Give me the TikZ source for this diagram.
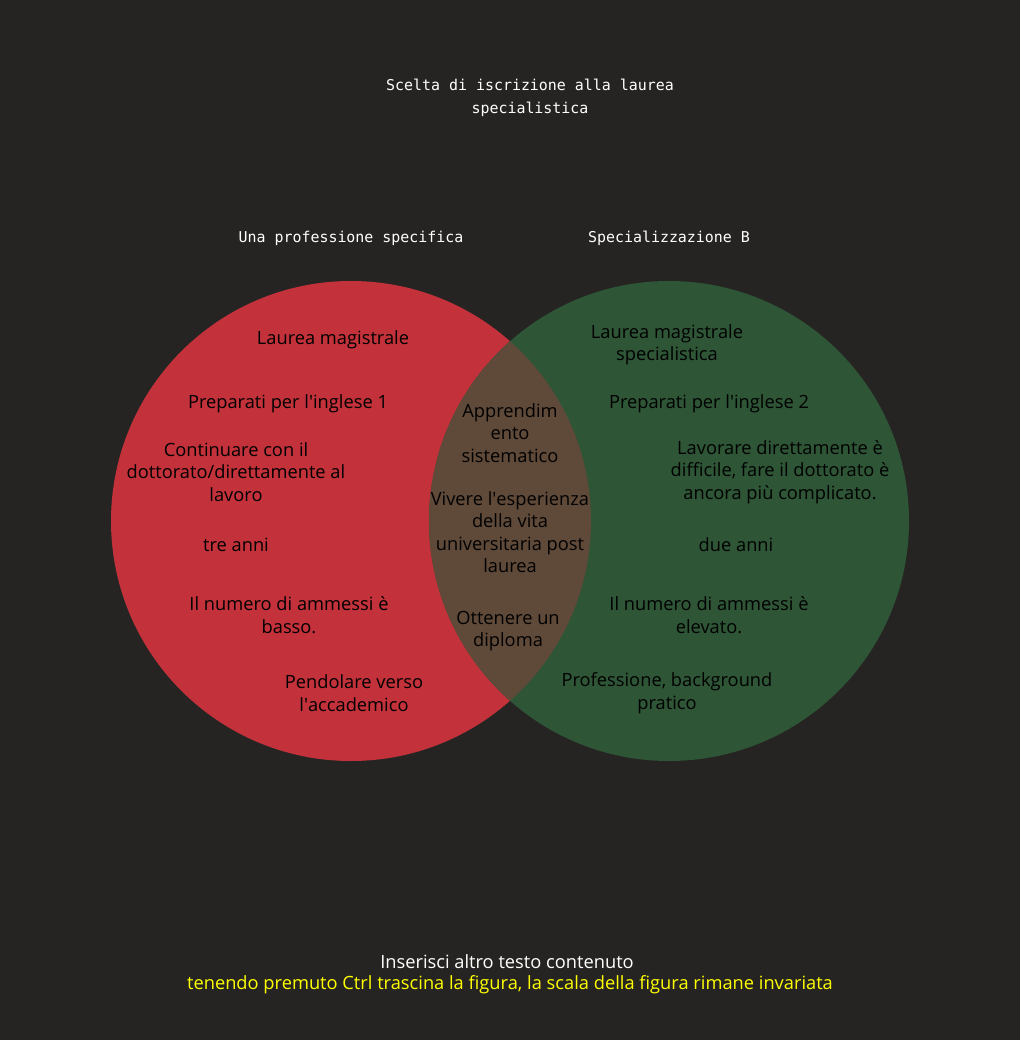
\documentclass[tikz,border=0pt]{standalone}
\usepackage{fontspec}
\setmainfont{Open Sans}
\newfontfamily\monofont{DejaVu Sans Mono}
\definecolor{bgdark}{HTML}{252423}
\definecolor{setred}{HTML}{C3323A}
\definecolor{setgreen}{HTML}{2E5536}
\definecolor{setboth}{HTML}{5F4939}
\definecolor{hintyellow}{HTML}{FFFF00}
\newcommand{\apo}{\textquotesingle}
\begin{document}
\begin{tikzpicture}[x=0.02cm,y=-0.02cm,
    txt/.style={align=center,inner sep=0pt,font=\fontsize{10.4}{12.8}\selectfont,text=black},
    head/.style={align=center,inner sep=0pt,font=\monofont\fontsize{8.5}{12.8}\selectfont,text=white}]
    \fill[bgdark] (0,0) rectangle (1020,1040);
    \useasboundingbox (0,0) rectangle (1020,1040);
    % cerchi
    \fill[setred] (351,521) circle (240);
    \fill[setgreen] (669,521) circle (240);
    \begin{scope}
        \clip (351,521) circle (240);
        \fill[setboth] (669,521) circle (240);
    \end{scope}
    % titoli
    \node[head] (title) at (530,98) {Scelta di iscrizione alla laurea\\specialistica};
    \node[head] (setA) at (351,238) {Una professione specifica};
    \node[head] (setB) at (669,238) {Specializzazione B};
    % sinistra
    \node[txt] (a1) at (333,340) {Laurea magistrale};
    \node[txt] (a2) at (288,404) {Preparati per l\apo inglese 1};
    \node[txt] (a3) at (236,472) {Continuare con il\\dottorato/direttamente al\\lavoro};
    \node[txt] (a4) at (236,545) {tre anni};
    \node[txt] (a5) at (289,615) {Il numero di ammessi è\\basso.};
    \node[txt] (a6) at (354,693) {Pendolare verso\\l\apo accademico};
    % centro
    \node[txt] (c1) at (510,433) {Apprendim\\ento\\sistematico};
    \node[txt] (c2) at (510,532) {Vivere l\apo esperienza\\della vita\\universitaria post\\laurea};
    \node[txt] (c3) at (508,631) {Ottenere un\\diploma};
    % destra
    \node[txt] (b1) at (667,345) {Laurea magistrale\\specialistica};
    \node[txt] (b2) at (709,404) {Preparati per l\apo inglese 2};
    \node[txt] (b3) at (780,472) {Lavorare direttamente è\\difficile, fare il dottorato è\\ancora più complicato.};
    \node[txt] (b4) at (736,545) {due anni};
    \node[txt] (b5) at (709,615) {Il numero di ammessi è\\elevato.};
    \node[txt] (b6) at (667,693) {Professione, background\\pratico};
    % note
    \node[txt,text=white] (note) at (507,962) {Inserisci altro testo contenuto};
    \node[txt,text=hintyellow] (hint) at (510,985) {tenendo premuto Ctrl trascina la figura, la scala della figura rimane invariata};
\end{tikzpicture}
\end{document}
